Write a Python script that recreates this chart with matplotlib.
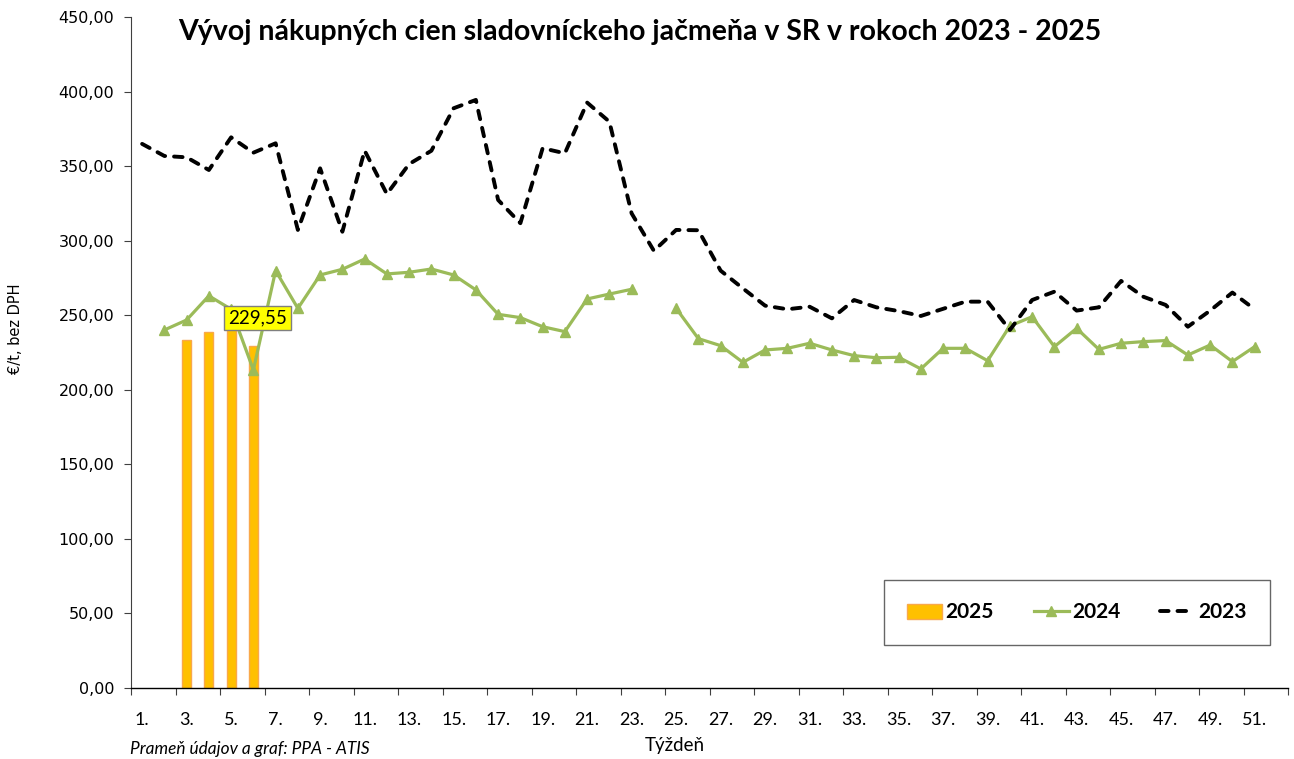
import numpy as np
import matplotlib
matplotlib.use("Agg")
import matplotlib.pyplot as plt
from matplotlib.ticker import FuncFormatter

nan = np.nan

weeks = list(range(1, 53))

# 2025 - stlpce (len tyzdne 3-6)
bars_2025 = [nan, nan, 233.4, 238.6, 241.0, 229.55] + [nan] * 46

# 2024 - zelena ciara s trojuholnikmi
line_2024 = [nan, 240.1, 246.8, 263.0, 254.0, 213.3, 279.9, 254.6, 277.0, 280.8,
             287.7, 277.7, 278.8, 281.0, 277.0, 267.0, 250.6, 248.4, 242.3, 239.0,
             260.9, 264.2, 267.4, nan, 254.6, 234.3, 229.6, 218.4, 226.7, 227.8,
             231.2, 226.7, 222.9, 221.5, 221.8, 214.0, 227.8, 227.8, 219.5, 242.8,
             249.0, 228.9, 241.2, 227.1, 231.2, 232.3, 233.0, 223.3, 230.0, 218.9,
             228.9, nan]

# 2023 - cierna prerusovana ciara
line_2023 = [364.9, 356.8, 355.9, 347.4, 369.3, 359.0, 365.3, 307.2, 348.5, 306.0,
             360.4, 331.3, 351.4, 360.3, 388.8, 394.4, 327.3, 311.7, 362.0, 358.6,
             392.6, 379.8, 318.3, 293.2, 307.2, 307.0, 279.9, 268.0, 256.4, 254.0,
             255.7, 247.9, 260.2, 255.3, 252.8, 249.5, 254.3, 259.1, 259.1, 240.1,
             260.2, 265.8, 253.1, 255.3, 273.0, 262.4, 256.9, 242.3, 253.1, 265.2,
             254.0, nan]

label_week = 6
label_value = 229.55

W, H = 1294, 759
fig = plt.figure(figsize=(W / 100, H / 100), dpi=100)
ax = fig.add_axes([131 / W, 1 - 688 / H, (1288 - 131) / W, (688 - 17) / H])

b25 = ax.bar(weeks, bars_2025, width=0.4, color="#FFC000", edgecolor="#F9A84A",
             linewidth=1.0, label="2025", zorder=2)
l24, = ax.plot(weeks, line_2024, color="#9BBB59", lw=2.3, marker="^", markersize=7,
               markeredgecolor="#9BBB59", label="2024", zorder=3)
l23, = ax.plot(weeks, line_2023, color="black", lw=2.8, linestyle=(0, (2.2, 2.3)),
               dash_capstyle="round", label="2023", zorder=4)

ax.annotate(f"{label_value:.2f}".replace(".", ","), xy=(label_week, label_value),
            xytext=(3, 20), textcoords="offset points", ha="center", va="center",
            fontsize=13.5, family="Lato", zorder=6,
            bbox=dict(boxstyle="square,pad=0.2", fc="#FFFF00", ec="#7F7F7F", lw=1))

ax.set_xlim(0.5, 52.5)
ax.set_ylim(0, 450)
ax.set_yticks(np.arange(0, 451, 50))
ax.yaxis.set_major_formatter(FuncFormatter(lambda v, p: f"{v:.2f}".replace(".", ",")))
ax.tick_params(axis="y", direction="out", length=5, pad=7, labelsize=11.5,
               color="#404040")

ax.set_xticks(np.arange(0.5, 53, 2))
ax.set_xticklabels([])
ax.set_xticks(np.arange(1, 52, 2), minor=True)
ax.set_xticklabels([f"{w}." for w in range(1, 52, 2)], minor=True,
                   family="Lato", fontsize=13)
ax.tick_params(axis="x", which="major", direction="out", length=5, color="#404040")
ax.tick_params(axis="x", which="minor", length=0, pad=17)

for s in ("top", "right"):
    ax.spines[s].set_visible(False)
ax.spines["left"].set_color("#404040")
ax.spines["bottom"].set_color("black")
ax.spines["bottom"].set_linewidth(1.0)

fig.text(640 / W, 1 - 40 / H,
         "Vývoj nákupných cien sladovníckeho jačmeňa v SR v rokoch 2023 - 2025",
         ha="center", va="baseline", fontsize=20.5, fontweight="bold", family="Lato")
fig.text(16 / W, 1 - 329 / H, "€/t, bez DPH", rotation=90, ha="center",
         va="center", fontsize=10.5)
fig.text(675 / W, 1 - 746 / H, "Týždeň", ha="center", va="center",
         fontsize=13.5, family="Lato")
fig.text(130 / W, 1 - 749 / H, "Prameň údajov a graf: PPA - ATIS", ha="left",
         va="center", fontsize=12.4, style="italic", family="Lato")

leg = fig.legend(handles=[b25, l24, l23], labels=["2025", "2024", "2023"],
                 loc="center", bbox_to_anchor=(1077 / W, 1 - 612.5 / H), ncol=3,
                 prop={"family": "Lato", "weight": "bold", "size": 15},
                 frameon=True, fancybox=False, edgecolor="#404040",
                 handlelength=1.7, handletextpad=0.15, columnspacing=1.9,
                 borderpad=1.1)
leg.get_frame().set_linewidth(1.0)

fig.savefig("out.png", dpi=100)
